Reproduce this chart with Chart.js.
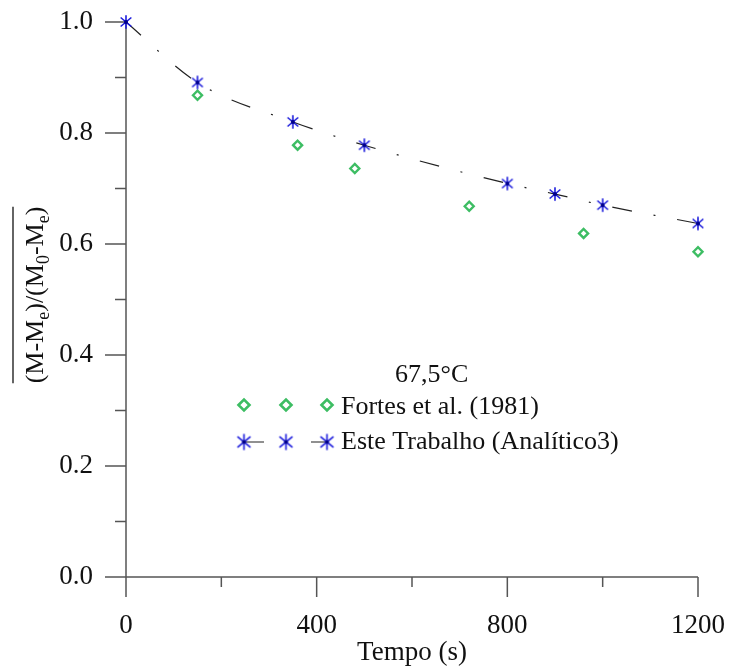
<!DOCTYPE html>
<html>
<head>
<meta charset="utf-8">
<script src="https://cdn.jsdelivr.net/npm/chart.js@4/dist/chart.umd.min.js"></script>
<style>
  html, body { margin: 0; padding: 0; background: #fff; }
</style>
</head>
<body>
<canvas id="canvas" width="729" height="669"></canvas>
<script>
const tempoAnalitico = [0, 150, 350, 500, 800, 900, 1000, 1200];
const razaoAnalitico = [1.0, 0.891, 0.820, 0.778, 0.709, 0.690, 0.670, 0.637];
const tempoFortes = [150, 360, 480, 720, 960, 1200];
const razaoFortes = [0.868, 0.778, 0.736, 0.668, 0.619, 0.586];
const xTicks = [0, 400, 800, 1200];
const xMinorTicks = [200, 600, 1000];
const yTicks = [0, 0.2, 0.4, 0.6, 0.8, 1.0];
const yMinorTicks = [0.1, 0.3, 0.5, 0.7, 0.9];
const legendTitle = '67,5°C';
const labelFortes = 'Fortes et al. (1981)';
const labelAnalitico = 'Este Trabalho (Analítico3)';
const xTitle = 'Tempo (s)';

const serif = "'Liberation Serif', 'Times New Roman', serif";
const green = '#3dbd63';
const blue = '#1c1cdc';
const axisColor = '#555';

// asterisk marker (vertical + two diagonals, dark centre)
let makeStar = function (r) {
    const size = Math.ceil(r * 2 + 4);
    const c = document.createElement('canvas');
    c.width = size;
    c.height = size;
    const g = c.getContext('2d');
    g.translate(size / 2, size / 2);
    g.strokeStyle = blue;
    g.lineWidth = 1.6;
    [[90, r * 0.95], [40, r], [140, r]].forEach(([a, len]) => {
        const dx = len * Math.cos(a * Math.PI / 180);
        const dy = len * Math.sin(a * Math.PI / 180);
        g.beginPath();
        g.moveTo(-dx, -dy);
        g.lineTo(dx, dy);
        g.stroke();
    });
    g.fillStyle = '#00008a';
    g.beginPath();
    g.arc(0, 0, 2, 0, 2 * Math.PI);
    g.fill();
    return c;
};
const starSmall = makeStar(7);
const starLarge = makeStar(8.5);

let drawDiamond = function (ctx, x, y, r) {
    ctx.save();
    ctx.strokeStyle = green;
    ctx.lineWidth = 2.6;
    ctx.beginPath();
    ctx.moveTo(x - r, y);
    ctx.lineTo(x, y - r);
    ctx.lineTo(x + r, y);
    ctx.lineTo(x, y + r);
    ctx.closePath();
    ctx.stroke();
    ctx.restore();
};

const axesPlugin = {
    id: 'axesPlugin',
    beforeDatasetsDraw(chart) {
        const ctx = chart.ctx;
        const xs = chart.scales.x;
        const ys = chart.scales.y;
        const a = chart.chartArea;
        ctx.save();
        ctx.strokeStyle = axisColor;
        ctx.lineWidth = 1.5;
        ctx.beginPath();
        ctx.moveTo(a.left, a.top);
        ctx.lineTo(a.left, a.bottom);
        ctx.lineTo(a.right, a.bottom);
        yTicks.forEach(v => {
            const p = ys.getPixelForValue(v);
            ctx.moveTo(a.left - 21, p);
            ctx.lineTo(a.left, p);
        });
        yMinorTicks.forEach(v => {
            const p = ys.getPixelForValue(v);
            ctx.moveTo(a.left - 11, p);
            ctx.lineTo(a.left, p);
        });
        xTicks.forEach(v => {
            const p = xs.getPixelForValue(v);
            ctx.moveTo(p, a.bottom);
            ctx.lineTo(p, a.bottom + 20);
        });
        xMinorTicks.forEach(v => {
            const p = xs.getPixelForValue(v);
            ctx.moveTo(p, a.bottom);
            ctx.lineTo(p, a.bottom + 10);
        });
        ctx.stroke();

        // x title
        ctx.fillStyle = '#111';
        ctx.font = '27px ' + serif;
        ctx.textAlign = 'center';
        ctx.textBaseline = 'middle';
        ctx.fillText(xTitle, (a.left + a.right) / 2, 653);

        // y title, rotated, with subscripts and overline
        const parts = [['(M-M', 0], ['e', 1], [')/(M', 0], ['0', 1], ['-M', 0], ['e', 1], [')', 0]];
        const mainFont = '26px ' + serif;
        const subFont = '18px ' + serif;
        let total = 0;
        parts.forEach(p => {
            ctx.font = p[1] ? subFont : mainFont;
            total += ctx.measureText(p[0]).width;
        });
        ctx.translate(43, 295);
        ctx.rotate(-Math.PI / 2);
        ctx.textAlign = 'left';
        ctx.textBaseline = 'alphabetic';
        let cx = -total / 2;
        parts.forEach(p => {
            ctx.font = p[1] ? subFont : mainFont;
            ctx.fillText(p[0], cx, p[1] ? 6 : 0);
            cx += ctx.measureText(p[0]).width;
        });
        ctx.strokeStyle = '#111';
        ctx.lineWidth = 1.3;
        ctx.beginPath();
        ctx.moveTo(-total / 2, -30);
        ctx.lineTo(total / 2, -30);
        ctx.stroke();
        ctx.restore();
    },
    afterDraw(chart) {
        const ctx = chart.ctx;
        ctx.save();
        ctx.fillStyle = '#111';
        ctx.font = '26px ' + serif;
        ctx.textAlign = 'left';
        ctx.textBaseline = 'middle';
        ctx.fillText(legendTitle, 395, 375);
        ctx.fillText(labelFortes, 341, 407);
        ctx.fillText(labelAnalitico, 341, 442);

        const mx = [244, 286, 327];
        mx.forEach(x => drawDiamond(ctx, x, 405, 5.5));

        ctx.strokeStyle = '#222';
        ctx.lineWidth = 1.2;
        ctx.beginPath();
        ctx.moveTo(244, 442);
        ctx.lineTo(264, 442);
        ctx.moveTo(311, 442);
        ctx.lineTo(327, 442);
        ctx.stroke();
        mx.forEach(x => ctx.drawImage(starLarge, x - starLarge.width / 2, 442 - starLarge.height / 2));
        ctx.restore();
    }
};

new Chart(document.getElementById('canvas').getContext('2d'), {
    type: 'scatter',
    data: {
        datasets: [{
            label: labelAnalitico,
            data: tempoAnalitico.map((t, i) => ({ x: t, y: razaoAnalitico[i] })),
            showLine: true,
            borderColor: '#222',
            borderWidth: 1.2,
            borderDash: [20, 22, 2, 22],
            cubicInterpolationMode: 'monotone',
            pointStyle: starSmall,
            pointRadius: 7,
            clip: false
        }, {
            label: labelFortes,
            data: tempoFortes.map((t, i) => ({ x: t, y: razaoFortes[i] })),
            showLine: false,
            pointStyle: 'rectRot',
            pointRadius: 4.5,
            pointBorderWidth: 2.4,
            pointBorderColor: green,
            pointBackgroundColor: 'rgba(0,0,0,0)',
            clip: false
        }]
    },
    options: {
        responsive: false,
        animation: false,
        layout: { padding: { top: 22, right: 31, left: 0, bottom: 0 } },
        plugins: {
            legend: { display: false },
            tooltip: { enabled: false }
        },
        scales: {
            x: {
                type: 'linear',
                min: 0,
                max: 1200,
                afterBuildTicks: s => { s.ticks = xTicks.map(v => ({ value: v })); },
                afterFit: s => {
                    s.height = 92;
                    s.paddingLeft = 0;
                    s.paddingRight = 0;
                },
                grid: { display: false, drawTicks: false },
                border: { display: false },
                ticks: {
                    padding: 33,
                    color: '#111',
                    maxRotation: 0,
                    font: { family: serif, size: 27 },
                    callback: v => String(v)
                }
            },
            y: {
                type: 'linear',
                min: 0,
                max: 1.0,
                afterBuildTicks: s => { s.ticks = yTicks.map(v => ({ value: v })); },
                afterFit: s => {
                    s.width = 126;
                    s.paddingTop = 0;
                    s.paddingBottom = 0;
                },
                grid: { display: false, drawTicks: false },
                border: { display: false },
                ticks: {
                    padding: 33,
                    color: '#111',
                    font: { family: serif, size: 27 },
                    callback: v => v.toFixed(1)
                }
            }
        }
    },
    plugins: [axesPlugin]
});
</script>
</body>
</html>
